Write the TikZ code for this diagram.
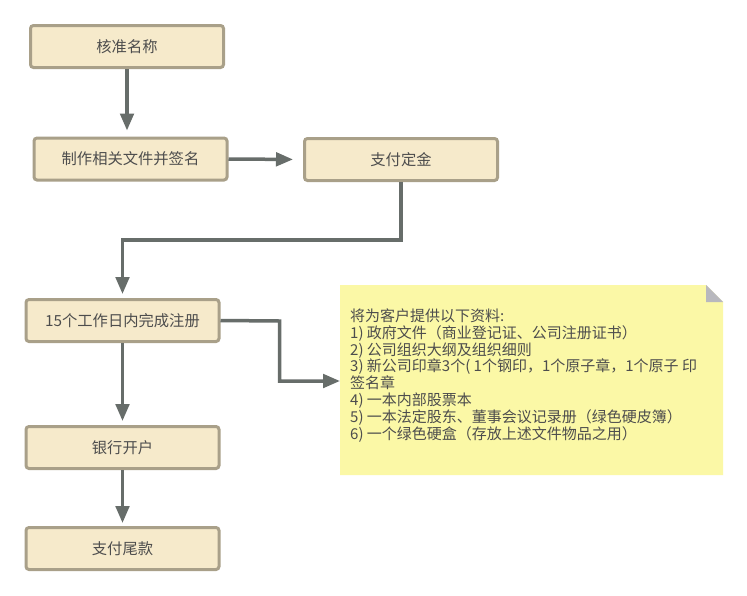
\documentclass[tikz,border=0pt]{standalone}
\usepackage{fontspec}
\setmainfont{Noto Sans CJK SC}
\usetikzlibrary{arrows.meta}
\definecolor{boxfill}{HTML}{F6EACB}
\definecolor{boxline}{HTML}{A9A089}
\definecolor{arr}{HTML}{676D6A}
\definecolor{notefill}{HTML}{FBF8A6}
\definecolor{txt}{HTML}{4D4D4D}
\definecolor{foldc}{HTML}{B8B8BE}
\begin{document}
\begin{tikzpicture}[x=1pt,y=-1pt,
  stepbox/.style={draw=boxline, fill=boxfill, line width=3pt, rounded corners=3pt,
    minimum width=193pt, minimum height=42pt, inner sep=0pt,
    text=txt, font=\fontsize{15.3pt}{17pt}\selectfont},
  flow/.style={draw=arr, line width=3.5pt, -{Triangle[length=17pt,width=13.5pt]}, shorten >=4pt},
  notetext/.style={text=txt, align=left, inner sep=0pt, anchor=north west,
    font=\fontsize{15pt}{16.8pt}\selectfont}]
\useasboundingbox (0,0) rectangle (747,595);
\fill[white] (0,0) rectangle (747,595);

% note
\fill[notefill] (340,285) -- (706,285) -- (723,302) -- (723,475) -- (340,475) -- cycle;
\fill[foldc] (706,285) -- (706,302) -- (723,302) -- cycle;
\coordinate (nl) at (340,381);
\node[notetext] (note) at (350,308.5) {将为客户提供以下资料:\\
1) 政府文件（商业登记证、公司注册证书）\\
2) 公司组织大纲及组织细则\\
3) 新公司印章3个( 1个钢印，1个原子章，1个原子 印\\
签名章\\
4) 一本内部股票本\\
5) 一本法定股东、董事会议记录册（绿色硬皮簿）\\
6) 一个绿色硬盒（存放上述文件物品之用）};

% boxes
\node[stepbox] (b1) at (127,46.5) {核准名称};
\node[stepbox] (b2) at (130.5,159) {制作相关文件并签名};
\node[stepbox] (b3) at (401,159.5) {支付定金};
\node[stepbox] (b4) at (122.5,320.5) {15个工作日内完成注册};
\node[stepbox] (b5) at (122.5,447.5) {银行开户};
\node[stepbox] (b6) at (122.5,548.5) {支付尾款};

% connectors
\coordinate (j1) at (401,240);
\coordinate (j2) at (279.5,321);
\draw[flow, shorten >=6pt] (b1.south) -- (b1.south |- b2.north);
\draw[flow, shorten >=10pt] (b2.east) -- (b3.west);
\draw[flow] (b3.south) -- (b3.south |- j1) -| (b4.north);
\draw[flow] (b4.south) -- (b5.north);
\draw[flow, shorten >=3pt] (b5.south) -- (b6.north);
\draw[flow, shorten >=0pt] (b4.east) -- (j2) |- (nl);
\end{tikzpicture}
\end{document}
